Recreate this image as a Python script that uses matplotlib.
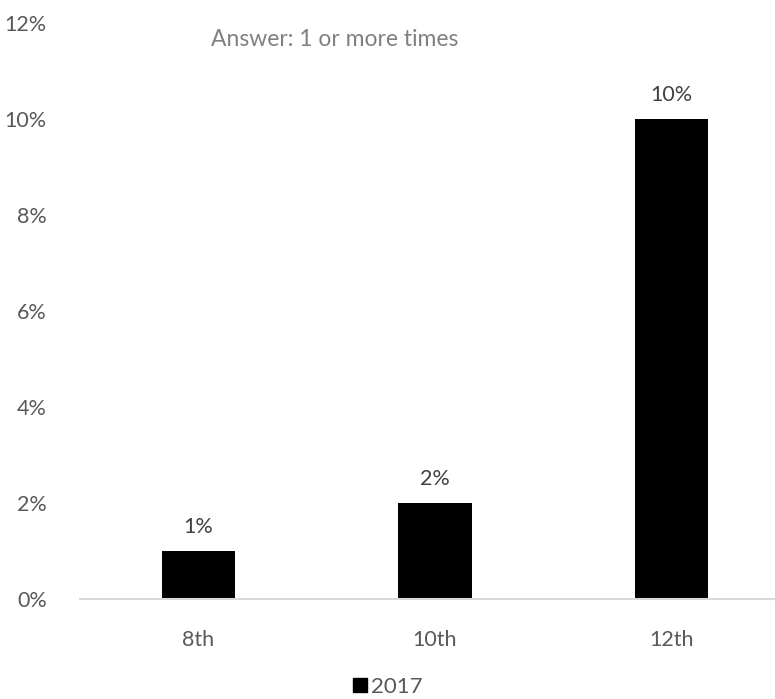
import matplotlib
matplotlib.use("Agg")
import matplotlib.pyplot as plt
from matplotlib.patches import Patch

# Datos
grades = ["8th", "10th", "12th"]
values_2017 = [1, 2, 10]
series_label = "2017"
title = "Answer: 1 or more times"
yticks = [0, 2, 4, 6, 8, 10, 12]

plt.rcParams["font.family"] = ["Lato", "DejaVu Sans"]
TEXT = "#595959"

fig = plt.figure(figsize=(7.75, 6.99), dpi=100)
ax = fig.add_axes([80 / 775, 100 / 699, 710 / 775, 576 / 699])

x = range(len(grades))
bars = ax.bar(x, values_2017, width=0.31, color="black")
for b, v in zip(bars, values_2017):
    ax.text(b.get_x() + b.get_width() / 2, v + 0.3, f"{v}%",
            ha="center", va="bottom", fontsize=15.5, color="#404040")

ax.set_xlim(-0.5, 2.5)
ax.set_ylim(0, 12)
ax.set_yticks(yticks)
ax.set_yticklabels([f"{t}%" for t in yticks])
ax.set_xticks(list(x))
ax.set_xticklabels(grades)
ax.tick_params(axis="y", length=0, pad=24, labelsize=15.5, labelcolor=TEXT)
ax.tick_params(axis="x", length=0, pad=22, labelsize=15.5, labelcolor=TEXT)
for s in ["top", "right", "left"]:
    ax.spines[s].set_visible(False)
ax.spines["bottom"].set_color("#d9d9d9")
ax.spines["bottom"].set_linewidth(1.5)

fig.text(335 / 775, 1 - 40 / 699, title, ha="center", va="center",
         fontsize=16.5, color="#808080")

fig.legend(handles=[Patch(color="black", label=series_label)],
           loc="center", bbox_to_anchor=(388 / 775, 1 - 687 / 699),
           frameon=False, fontsize=16, handlelength=0.6, handleheight=0.6,
           handletextpad=0.2, labelcolor=TEXT)

fig.savefig("out.png", dpi=100)
